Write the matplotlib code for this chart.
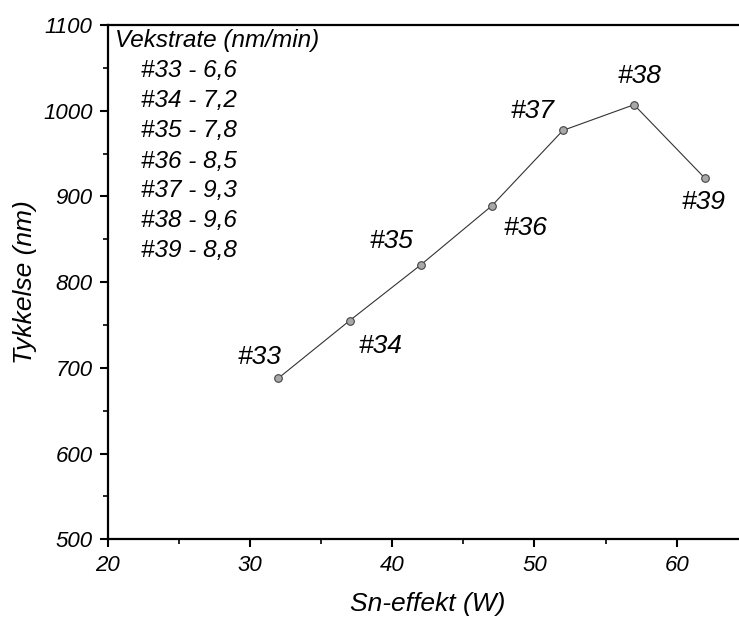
import matplotlib.pyplot as plt
from matplotlib.ticker import MultipleLocator

plt.rcParams['font.family'] = ['Liberation Sans', 'DejaVu Sans']
plt.rcParams['font.style'] = 'italic'

# Sn-effekt (W) vs tykkelse (nm) for prøve #33 - #39
effekt = [32, 37, 42, 47, 52, 57, 62]
tykkelse = [688, 755, 820, 889, 977, 1007, 921]
prover = ['#33', '#34', '#35', '#36', '#37', '#38', '#39']
vekstrate = ['6,6', '7,2', '7,8', '8,5', '9,3', '9,6', '8,8']

# label offsets (points) relative to each point
offsets = [(-14, 15), (22, -18), (-21, 17), (24, -16), (-22, 14), (4, 21), (-1, -17)]

fig = plt.figure(figsize=(7.39, 6.19), dpi=100)
ax = fig.add_axes([107.7 / 739, 1 - 539.3 / 619, (747.8 - 107.7) / 739, (539.3 - 25) / 619])

ax.plot(effekt, tykkelse, color='#333333', lw=0.8,
        marker='o', ms=5.5, mfc='#a8a8a8', mec='#444444', mew=0.8)

for p, x, y, off in zip(prover, effekt, tykkelse, offsets):
    ax.annotate(p, (x, y), xytext=off, textcoords='offset points',
                ha='center', va='center', fontsize=19, style='italic')

ax.set_xlim(20, 65)
ax.set_ylim(500, 1100)
ax.xaxis.set_major_locator(MultipleLocator(10))
ax.xaxis.set_minor_locator(MultipleLocator(5))
ax.yaxis.set_major_locator(MultipleLocator(100))
ax.yaxis.set_minor_locator(MultipleLocator(50))
ax.tick_params(which='major', direction='out', length=6, width=1.5, labelsize=16, pad=5)
ax.tick_params(which='minor', direction='out', length=3.5, width=1.2)
ax.tick_params(top=False, right=False)

for s in ['left', 'bottom', 'top']:
    ax.spines[s].set_linewidth(1.6)
ax.spines['right'].set_visible(False)

ax.set_xlabel('Sn-effekt (W)', fontsize=19, labelpad=12)
ax.set_ylabel('Tykkelse (nm)', fontsize=19, labelpad=4)

# vekstrate list in upper left corner
fig.text(115 / 739, 1 - 41 / 619, 'Vekstrate (nm/min)', fontsize=17.5,
         ha='left', va='center', style='italic')
for i, (p, v) in enumerate(zip(prover, vekstrate)):
    fig.text(141 / 739, 1 - (71 + 30 * i) / 619, f'{p} - {v}', fontsize=17.5,
             ha='left', va='center', style='italic')

fig.savefig('out.png', dpi=100)
